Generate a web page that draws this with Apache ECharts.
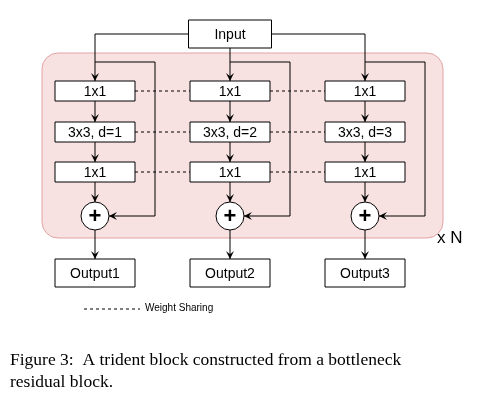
<!DOCTYPE html>
<html><head><meta charset="utf-8">
<script src="https://cdn.jsdelivr.net/npm/echarts@6/dist/echarts.min.js"></script>
<style>html,body{margin:0;background:#fff}#c{width:497px;height:404px}</style>
</head><body><div id="c"></div>
<script>
// diagram laid out in a 497 x 404 data space (y grows downward)
const columns = [95, 230, 365];
const dilations = [1, 2, 3];
const rowY = [91, 132, 172];
const plusY = 216;
const outputY = 273;
const outputLabels = ['Output1', 'Output2', 'Output3'];

const boxes = [[230, 34, 83, 28, 'Input']];
columns.forEach((cx, i) => {
    boxes.push([cx, rowY[0], 80, 20, '1x1']);
    boxes.push([cx, rowY[1], 80, 20, '3x3, d=' + dilations[i]]);
    boxes.push([cx, rowY[2], 80, 20, '1x1']);
    boxes.push([cx, outputY, 80, 28, outputLabels[i]]);
});
const circles = columns.map(cx => [cx, plusY, 28]);

const arrows = [
    [[189, 34], [95, 34], [95, 81]],
    [[272, 34], [365, 34], [365, 81]],
    [[230, 48], [230, 81]]
];
columns.forEach(cx => {
    arrows.push([[cx, 62], [cx + 60, 62], [cx + 60, plusY], [cx + 14, plusY]]);
    arrows.push([[cx, 101], [cx, 122]]);
    arrows.push([[cx, 142], [cx, 162]]);
    arrows.push([[cx, 182], [cx, 202]]);
    arrows.push([[cx, 230], [cx, 259]]);
});
const dashes = [];
rowY.forEach(y => {
    dashes.push([[135, y], [190, y]]);
    dashes.push([[270, y], [325, y]]);
});
dashes.push([[84, 309], [140, 309]]);

const chart = echarts.init(document.getElementById('c'));
const font = 'Liberation Sans, Arial, sans-serif';

function pathItem(pts, api, withHead, dashed) {
    const px = pts.map(p => api.coord(p));
    const children = [{ type: 'polyline', shape: { points: px },
        style: { fill: null, stroke: '#000', lineWidth: 1, lineDash: dashed ? [3, 3] : null } }];
    if (withHead) {
        const e = px[px.length - 1], s = px[px.length - 2];
        const a = Math.atan2(e[1] - s[1], e[0] - s[0]);
        const L = 8, W = 4;
        const bx = e[0] - L * Math.cos(a), by = e[1] - L * Math.sin(a);
        const nx = -Math.sin(a) * W, ny = Math.cos(a) * W;
        const ix = e[0] - L * 0.6 * Math.cos(a), iy = e[1] - L * 0.6 * Math.sin(a);
        children.push({ type: 'polygon', shape: { points: [e, [bx + nx, by + ny], [ix, iy], [bx - nx, by - ny]] },
            style: { fill: '#000' } });
    }
    return { type: 'group', children };
}

chart.setOption({
    animation: false,
    grid: { left: 0, right: 0, top: 0, bottom: 0 },
    xAxis: { type: 'value', min: 0, max: 497, show: false },
    yAxis: { type: 'value', min: 0, max: 404, inverse: true, show: false },
    series: [
        {
            type: 'custom', data: [[42, 53, 443, 238]], z: 1,
            renderItem: (p, api) => {
                const a = api.coord([api.value(0), api.value(1)]);
                const b = api.coord([api.value(2), api.value(3)]);
                return { type: 'rect', shape: { x: a[0], y: a[1], width: b[0] - a[0], height: b[1] - a[1], r: 16 },
                    style: { fill: '#f8e1e1', stroke: '#e0a3a3', lineWidth: 1 } };
            }
        },
        {
            type: 'custom', data: arrows.map((a, i) => i), z: 2,
            renderItem: (p, api) => pathItem(arrows[p.dataIndex], api, true, false)
        },
        {
            type: 'custom', data: dashes.map((a, i) => i), z: 2,
            renderItem: (p, api) => pathItem(dashes[p.dataIndex], api, false, true)
        },
        {
            type: 'custom', data: boxes, z: 3,
            renderItem: (p, api) => {
                const c = api.coord([api.value(0), api.value(1)]);
                const s = api.size([api.value(2), api.value(3)]);
                return { type: 'group', children: [
                    { type: 'rect', shape: { x: c[0] - s[0] / 2, y: c[1] - s[1] / 2, width: s[0], height: s[1] },
                      style: { fill: '#fff', stroke: '#000', lineWidth: 1 } },
                    { type: 'text', x: c[0], y: c[1] + 1, style: { text: boxes[p.dataIndex][4], fill: '#000',
                      font: '14px ' + font, align: 'center', verticalAlign: 'middle' } }
                ] };
            }
        },
        {
            type: 'custom', data: circles, z: 3,
            renderItem: (p, api) => {
                const c = api.coord([api.value(0), api.value(1)]);
                const r = api.size([api.value(2), 0])[0] / 2;
                return { type: 'group', children: [
                    { type: 'circle', shape: { cx: c[0], cy: c[1], r: r }, style: { fill: '#fff', stroke: '#000', lineWidth: 1 } },
                    { type: 'text', x: c[0], y: c[1] + 1, style: { text: '+', fill: '#000', font: 'bold 22px ' + font,
                      align: 'center', verticalAlign: 'middle' } }
                ] };
            }
        }
    ],
    graphic: [
        { type: 'text', left: 437, top: 230, style: { text: 'x N', font: '17px ' + font, fill: '#000' } },
        { type: 'text', left: 145, top: 303, style: { text: 'Weight Sharing', font: '10px ' + font, fill: '#000' } },
        { type: 'text', left: 10, top: 351, style: { text: 'Figure 3:  A trident block constructed from a bottleneck',
          font: '17.5px Liberation Serif, serif', fill: '#000' } },
        { type: 'text', left: 10, top: 373, style: { text: 'residual block.', font: '17.5px Liberation Serif, serif', fill: '#000' } }
    ]
});
</script></body></html>
